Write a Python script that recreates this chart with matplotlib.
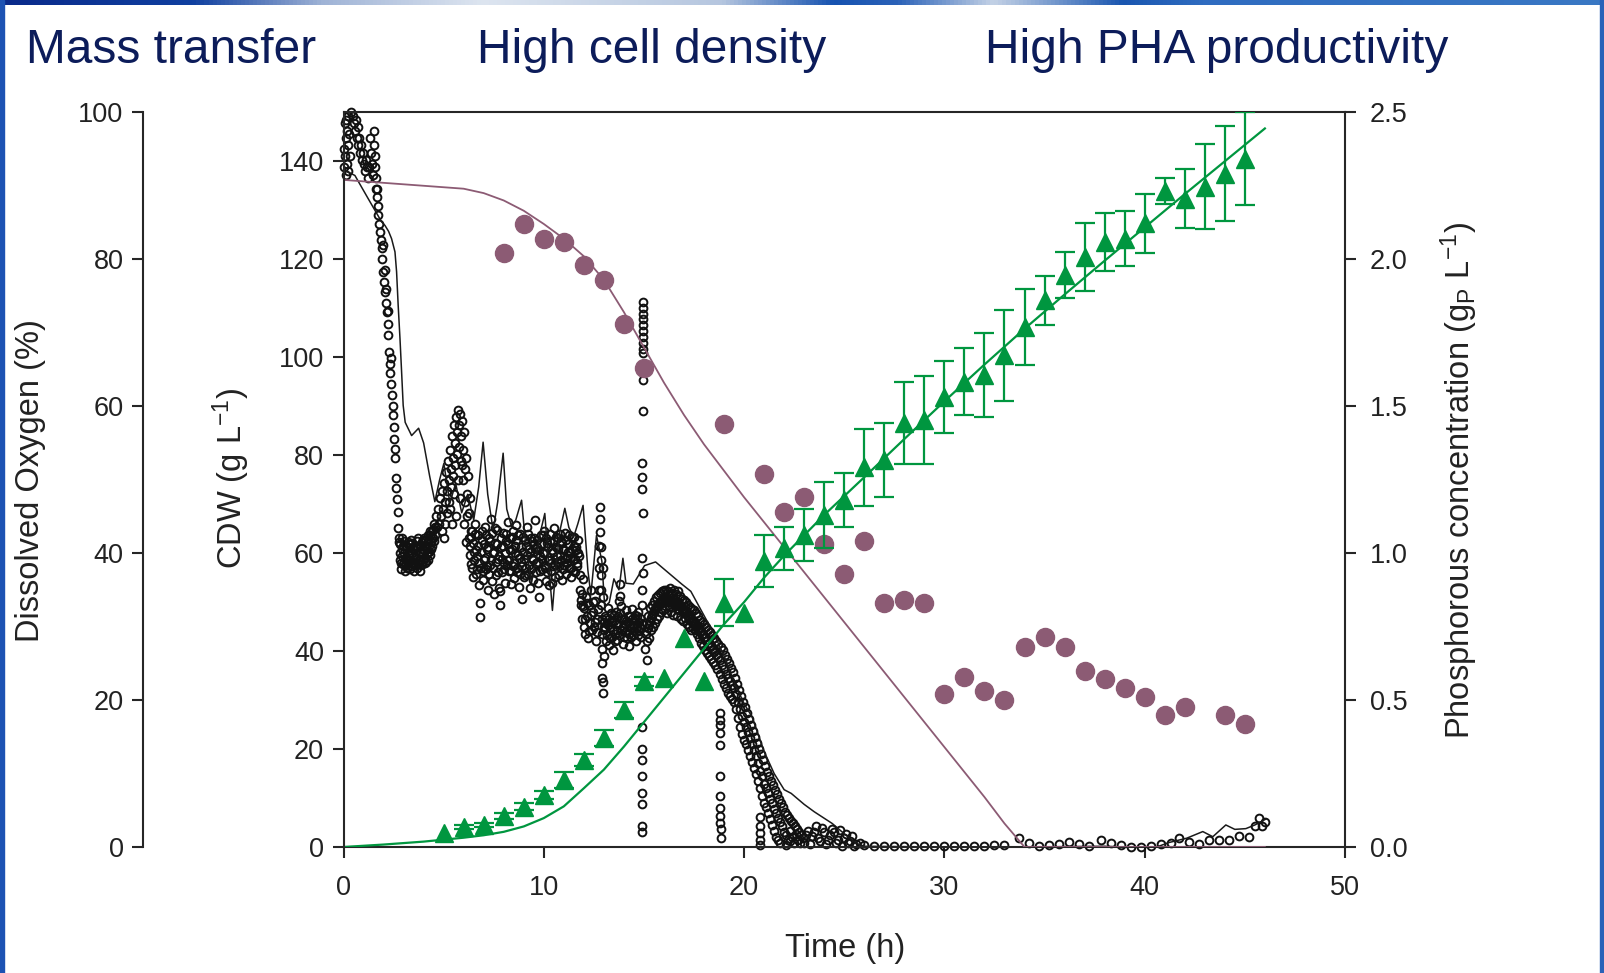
import numpy as np
import matplotlib
matplotlib.use("Agg")
import matplotlib.pyplot as plt
from matplotlib.patches import Rectangle

plt.rcParams['font.family'] = ['Liberation Sans', 'DejaVu Sans']
plt.rcParams['mathtext.fontset'] = 'custom'
plt.rcParams['mathtext.rm'] = 'Liberation Sans'
plt.rcParams['mathtext.it'] = 'Liberation Sans:italic'

# ---- CDW data (green triangles, mean and SD) ----
cdw_time = list(range(5, 46))
cdw_mean = [2.8, 4.0, 4.5, 6.3, 8.2, 10.6, 13.7, 17.8, 22.2, 28.0, 33.8, 34.5, 42.6, 33.8,
            49.9, 47.7, 58.3, 61.0, 63.7, 67.8, 70.9, 77.5, 79.0, 86.5, 87.2, 91.9, 95.0,
            96.3, 100.4, 106.2, 111.6, 116.7, 120.5, 123.5, 124.2, 127.3, 133.9, 132.4,
            134.8, 137.5, 140.5]
cdw_sd = [np.nan, 0.4, 0.5, 0.6, 0.7, 0.8, 1.6, 1.2, 1.6, 1.7, 1.0, np.nan, np.nan, np.nan,
          4.8, np.nan, 5.3, 4.4, 5.4, 6.7, 5.5, 7.8, 7.6, 8.4, 9.0, 7.4, 6.8, 8.6, 9.3, 7.7,
          5.0, 4.7, 7.0, 6.0, 5.6, 6.0, 2.6, 6.0, 8.7, 9.7, 9.5]

# CDW model (green line)
cdw_model_time = [0, 2, 4, 5, 6, 7, 8, 9, 10, 11, 12, 13, 14, 15, 16, 17, 18, 19, 20, 21, 22,
                  24, 26, 28, 30, 32, 34, 36, 38, 40, 42, 44, 46]
cdw_model = [0.0, 0.5, 1.1, 1.5, 1.9, 2.4, 3.1, 4.2, 5.9, 8.3, 12.0, 15.8, 20.5, 25.5, 30.5,
             35.5, 40.5, 45.5, 50.0, 55.0, 59.5, 67.8, 75.5, 83.3, 91.0, 98.5, 105.8, 112.8,
             119.7, 126.5, 133.3, 140.0, 146.7]

# ---- Phosphorous (purple) ----
p_time = [8, 9, 10, 11, 12, 13, 14, 15, 19, 21, 22, 23, 24, 25, 26, 27, 28, 29, 30, 31, 32,
          33, 34, 35, 36, 37, 38, 39, 40, 41, 42, 44, 45]
p_conc = [2.02, 2.12, 2.07, 2.06, 1.98, 1.93, 1.78, 1.63, 1.44, 1.27, 1.14, 1.19, 1.03, 0.93,
          1.04, 0.83, 0.84, 0.83, 0.52, 0.58, 0.53, 0.50, 0.68, 0.715, 0.68, 0.60, 0.57, 0.54,
          0.51, 0.45, 0.475, 0.45, 0.42]
p_model_time = [0, 2, 4, 6, 7, 8, 9, 10, 11, 12, 13, 14, 15, 16, 17, 18, 20, 22, 24, 26, 28,
                30, 32, 33, 34, 46]
p_model = [2.27, 2.26, 2.25, 2.24, 2.225, 2.20, 2.165, 2.12, 2.07, 2.01, 1.93, 1.82, 1.70,
           1.58, 1.47, 1.37, 1.19, 1.02, 0.85, 0.68, 0.51, 0.34, 0.17, 0.08, 0.0, 0.0]

# ---- Dissolved oxygen measurements (open circles), (time h, DO %) ----
do_start = [(0.02, 95.0), (0.04, 92.5), (0.06, 98.5), (0.08, 94.0), (0.10, 91.5), (0.12, 99.0),
            (0.14, 96.5), (0.16, 93.0), (0.18, 97.5), (0.20, 95.5), (0.22, 92.0), (0.24, 99.5),
            (0.27, 97.0), (0.30, 94.0), (0.35, 100.0), (0.45, 99.5), (0.52, 98.5), (0.58, 97.5),
            (0.62, 99.0), (0.66, 96.5), (0.70, 98.0), (0.74, 95.5), (0.78, 96.5), (0.82, 94.5),
            (0.86, 95.5), (0.90, 93.5), (0.95, 94.5), (1.00, 93.0), (1.05, 92.0), (1.10, 93.5),
            (1.15, 92.5), (1.20, 91.0), (1.25, 92.5), (1.30, 96.5), (1.35, 94.5), (1.40, 93.0),
            (1.45, 91.5), (1.50, 97.5), (1.53, 95.5), (1.56, 94.0), (1.58, 92.5), (1.60, 91.0),
            (1.62, 89.5)]
do_drop = [(1.65, 89.6), (1.68, 88.5), (1.71, 87.2), (1.74, 86.0), (1.78, 84.8), (1.82, 83.7),
           (1.86, 82.6), (1.90, 81.5), (1.94, 80.0), (1.99, 78.3), (2.03, 76.9), (2.07, 75.5),
           (2.11, 74.1), (2.15, 72.8), (2.20, 71.2), (2.24, 69.7), (2.27, 67.4), (2.30, 65.8),
           (2.33, 64.5), (2.37, 63.0), (2.40, 61.5), (2.45, 60.0), (2.49, 58.8), (2.51, 57.2),
           (2.53, 55.6), (2.55, 54.2), (2.57, 52.9), (2.60, 50.2), (2.63, 48.8), (2.65, 47.4),
           (2.70, 45.6), (2.73, 43.4), (2.76, 42.0), (1.95, 82.0), (2.05, 78.5), (2.12, 76.0),
           (2.22, 73.0), (2.35, 66.5)]
do_plateau = [(2.78, 41.5), (2.82, 39.0), (2.86, 37.8), (2.90, 40.5), (2.94, 42.0), (2.98, 38.5),
              (3.02, 40.0), (3.06, 37.5), (3.10, 41.0), (3.14, 39.5), (3.18, 38.0), (3.22, 41.5),
              (3.26, 40.0), (3.30, 37.8), (3.34, 39.0), (3.38, 41.8), (3.42, 38.2), (3.46, 40.5),
              (3.50, 39.0), (3.54, 37.5), (3.58, 41.0), (3.62, 39.5), (3.66, 38.0), (3.70, 40.8),
              (3.74, 42.0), (3.78, 39.0), (3.82, 37.6), (3.86, 40.0), (3.90, 41.5), (3.94, 38.5),
              (3.98, 40.0), (4.02, 42.0), (4.06, 39.5), (4.10, 41.0), (4.14, 38.8), (4.18, 40.5),
              (4.22, 42.5), (4.26, 41.0), (4.30, 39.8), (4.34, 42.5), (4.38, 41.5), (4.42, 43.0),
              (4.46, 42.0), (4.50, 44.0), (4.55, 42.5), (4.60, 45.0),
              (2.80, 40.0), (2.84, 41.2), (2.88, 38.6), (2.92, 39.6), (2.96, 41.0), (3.00, 38.8),
              (3.04, 41.6), (3.08, 39.2), (3.12, 38.4), (3.16, 40.8), (3.20, 39.8), (3.24, 38.6),
              (3.28, 41.2), (3.32, 40.4), (3.36, 38.2), (3.40, 40.0), (3.44, 41.4), (3.48, 38.8),
              (3.52, 40.6), (3.56, 39.4), (3.60, 38.4), (3.64, 40.8), (3.68, 41.6), (3.72, 38.6),
              (3.76, 40.2), (3.80, 41.0), (3.84, 39.0), (3.88, 38.4), (3.92, 40.6), (3.96, 41.8),
              (4.00, 39.2), (4.04, 40.4), (4.08, 38.6), (4.12, 41.8), (4.16, 40.0), (4.20, 39.0),
              (4.24, 41.6), (4.28, 40.2), (4.32, 43.0), (4.36, 40.6), (4.40, 42.2), (4.44, 41.0),
              (4.48, 43.2), (4.52, 41.6), (4.57, 43.6)]
do_peak = [(4.65, 43.5), (4.70, 46.0), (4.75, 44.0), (4.80, 47.5), (4.85, 45.0), (4.90, 48.5),
           (4.95, 46.0), (5.00, 49.5), (5.05, 47.0), (5.10, 51.0), (5.15, 48.5), (5.20, 52.5),
           (5.25, 50.0), (5.30, 54.0), (5.35, 51.5), (5.40, 56.0), (5.45, 53.0), (5.50, 57.5),
           (5.55, 55.0), (5.60, 58.5), (5.65, 56.5), (5.70, 59.5), (5.75, 57.5), (5.80, 59.0),
           (5.85, 56.0), (5.90, 58.0), (5.95, 54.0), (6.00, 56.5), (6.05, 51.5), (6.10, 53.0),
           (6.15, 48.0), (6.20, 50.5), (6.25, 45.5), (6.30, 47.5), (6.35, 43.0), (5.30, 46.0),
           (5.40, 44.0), (5.50, 48.0), (5.60, 45.0), (5.70, 50.0), (5.80, 47.5), (5.90, 52.0),
           (6.00, 44.0), (6.10, 41.5), (5.05, 44.0), (5.15, 45.5), (5.25, 47.0), (5.35, 49.0),
           (5.45, 50.5), (5.55, 52.0), (5.65, 53.5), (5.75, 54.5), (5.85, 52.5), (5.95, 50.0),
           (6.05, 47.0), (6.15, 45.0), (6.25, 42.0), (4.90, 43.0), (5.00, 42.0)]
do_noisy = [(6.30, 41.0), (6.35, 38.5), (6.40, 43.0), (6.45, 36.8), (6.50, 40.2), (6.55, 44.0),
            (6.60, 37.2), (6.65, 39.6), (6.70, 42.4), (6.75, 35.6), (6.80, 31.3), (6.82, 33.2),
            (6.85, 38.0), (6.90, 41.8), (6.95, 36.4), (7.00, 39.0), (7.05, 43.5), (7.10, 37.8),
            (7.15, 40.6), (7.20, 35.0), (7.25, 42.0), (7.30, 38.4), (7.35, 44.6), (7.40, 36.2),
            (7.45, 40.0), (7.50, 34.5), (7.55, 41.4), (7.60, 37.0), (7.65, 43.2), (7.70, 39.2),
            (7.75, 35.2), (7.80, 32.9), (7.83, 34.8), (7.85, 40.8), (7.90, 37.4), (7.95, 42.8),
            (8.00, 38.6), (8.05, 36.0), (8.10, 41.6), (8.15, 39.0), (8.20, 44.2), (8.25, 37.6),
            (8.30, 40.4), (8.35, 35.8), (8.40, 42.2), (8.45, 38.2), (8.50, 36.6), (8.55, 41.0),
            (8.60, 43.8), (8.65, 37.4), (8.70, 39.8), (8.75, 35.4), (8.80, 42.6), (8.85, 38.8),
            (8.90, 33.8), (8.95, 40.2), (9.00, 36.8), (9.05, 41.8), (9.10, 38.0), (9.15, 43.6),
            (9.20, 37.2), (9.25, 40.6), (9.30, 35.2), (9.35, 42.0), (9.40, 39.4), (9.45, 36.4),
            (9.50, 41.2), (9.55, 44.5), (9.60, 38.6), (9.65, 40.8), (9.70, 36.0), (9.75, 34.0),
            (9.80, 39.6), (9.85, 42.4), (9.90, 37.8), (9.95, 40.0), (10.00, 43.0), (10.05, 38.4),
            (10.10, 36.2), (10.15, 41.4), (10.20, 39.0), (10.25, 35.6), (10.30, 42.6),
            (10.35, 37.6), (10.40, 40.4), (10.45, 38.2), (10.50, 43.4), (10.55, 36.8),
            (10.60, 40.8), (10.65, 38.8), (10.70, 42.0), (10.75, 37.0), (10.80, 39.8),
            (10.85, 41.6), (10.90, 36.4), (10.95, 40.6), (11.00, 38.4), (11.05, 42.8),
            (11.10, 37.2), (11.15, 39.4), (11.20, 41.2), (11.25, 38.0), (11.30, 40.2),
            (11.35, 36.8), (11.40, 42.2), (11.45, 39.0), (11.50, 41.0), (11.55, 37.4),
            (11.60, 40.4), (11.65, 38.6), (11.70, 41.8), (11.75, 39.6)]
do_noisy_2 = [(6.33, 39.8), (6.38, 42.2), (6.43, 38.0), (6.48, 41.4), (6.53, 39.0), (6.58, 42.6),
              (6.63, 40.4), (6.68, 37.8), (6.73, 41.0), (6.78, 38.6), (6.88, 40.2), (6.93, 43.0),
              (6.98, 37.6), (7.03, 41.2), (7.08, 39.4), (7.13, 42.4), (7.18, 38.2), (7.23, 40.8),
              (7.28, 37.2), (7.33, 41.6), (7.38, 39.0), (7.43, 42.8), (7.48, 38.0), (7.53, 40.2),
              (7.58, 43.4), (7.63, 38.8), (7.68, 41.2), (7.73, 37.4), (7.78, 39.6), (7.88, 42.0),
              (7.93, 39.2), (7.98, 41.0), (8.03, 37.8), (8.08, 40.0), (8.13, 42.6), (8.18, 38.4),
              (8.23, 41.2), (8.28, 39.0), (8.33, 42.0), (8.38, 37.6), (8.43, 40.6), (8.48, 43.0),
              (8.53, 38.6), (8.58, 40.0), (8.63, 41.8), (8.68, 38.0), (8.73, 42.4), (8.78, 39.4),
              (8.83, 37.2), (8.88, 40.8), (8.93, 38.2), (8.98, 42.2), (9.03, 39.2), (9.08, 37.0),
              (9.13, 41.0), (9.18, 39.8), (9.23, 42.6), (9.28, 38.4), (9.33, 40.2), (9.38, 37.8),
              (9.43, 41.6), (9.48, 39.0), (9.53, 42.0), (9.58, 40.6), (9.63, 37.4), (9.68, 41.8),
              (9.73, 38.8), (9.78, 40.4), (9.83, 37.6), (9.88, 41.2), (9.93, 39.2), (9.98, 42.4),
              (10.03, 40.0), (10.08, 38.0), (10.13, 42.0), (10.18, 37.4), (10.23, 40.8),
              (10.28, 39.0), (10.33, 41.6), (10.38, 38.6), (10.43, 36.0), (10.48, 40.2),
              (10.53, 41.6), (10.58, 38.4), (10.63, 42.2), (10.68, 39.6), (10.73, 40.6),
              (10.78, 38.2), (10.83, 42.6), (10.88, 39.0), (10.93, 41.4), (10.98, 37.8),
              (11.03, 40.4), (11.08, 39.2), (11.13, 41.8), (11.18, 38.6), (11.23, 40.2),
              (11.28, 42.4), (11.33, 39.4), (11.38, 38.0), (11.43, 40.6), (11.48, 37.6),
              (11.53, 42.2), (11.58, 39.2), (11.63, 40.8), (11.68, 38.2), (11.73, 40.0)]
do_step = [(11.80, 37.0), (11.83, 35.0), (11.86, 33.0), (11.90, 31.0), (11.93, 34.5),
           (11.96, 36.5), (12.00, 30.0), (12.03, 32.5), (12.06, 29.0), (12.10, 34.0),
           (12.15, 31.5), (12.20, 28.5), (12.25, 33.0), (12.30, 30.5), (12.35, 35.0),
           (12.40, 29.5), (12.45, 32.0), (12.50, 30.0), (12.55, 33.5), (12.60, 28.0),
           (12.65, 31.0), (12.80, 46.3), (12.81, 44.7), (12.82, 42.9), (12.84, 40.9),
           (12.85, 39.0), (12.86, 37.0), (12.87, 35.0), (12.88, 33.0), (12.89, 31.0),
           (12.90, 29.0), (12.91, 27.0), (12.92, 25.0), (12.93, 23.0), (12.94, 20.9),
           (12.96, 22.5), (12.97, 38.0), (12.98, 34.0), (12.99, 30.0), (13.00, 26.0),
           (11.88, 33.6), (11.98, 32.8), (12.08, 31.0), (12.18, 33.2), (12.28, 29.4),
           (12.38, 31.6), (12.48, 33.4), (12.58, 30.6), (12.68, 29.2), (12.72, 32.4),
           (12.75, 35.0), (12.77, 38.0), (12.78, 41.0)]
do_low = [(13.00, 29.5), (13.05, 31.5), (13.10, 28.0), (13.15, 30.5), (13.20, 32.5),
          (13.25, 27.5), (13.30, 30.0), (13.35, 31.8), (13.40, 28.6), (13.45, 26.8),
          (13.50, 30.8), (13.55, 29.0), (13.60, 32.0), (13.65, 28.2), (13.70, 30.4),
          (13.75, 33.5), (13.80, 35.8), (13.82, 34.2), (13.85, 32.8), (13.90, 29.6),
          (13.95, 27.6), (14.00, 31.0), (14.05, 29.2), (14.10, 32.2), (14.15, 28.4),
          (14.20, 30.6), (14.25, 27.4), (14.30, 31.4), (14.35, 29.8), (14.40, 32.4),
          (14.45, 28.8), (14.50, 30.2), (14.55, 31.6), (14.60, 28.0), (14.65, 30.0),
          (14.70, 32.0), (14.75, 29.4), (14.80, 31.2), (14.85, 28.6),
          (13.03, 30.6), (13.08, 29.8), (13.13, 31.2), (13.18, 28.8), (13.23, 30.2),
          (13.28, 31.0), (13.33, 28.4), (13.38, 30.6), (13.43, 29.4), (13.48, 31.6),
          (13.53, 28.0), (13.58, 30.4), (13.63, 29.6), (13.68, 31.4), (13.73, 28.8),
          (13.78, 31.8), (13.88, 31.0), (13.93, 30.0), (13.98, 28.6), (14.03, 30.4),
          (14.08, 30.8), (14.13, 29.6), (14.18, 31.4), (14.23, 29.0), (14.28, 30.2),
          (14.33, 28.6), (14.38, 31.0), (14.43, 30.2), (14.48, 29.4), (14.53, 31.2),
          (14.58, 29.8), (14.63, 31.4), (14.68, 28.8), (14.73, 30.6), (14.78, 30.0),
          (14.83, 29.8), (14.88, 30.4)]
do_spike = [(14.95, 74.2), (14.96, 73.4), (14.95, 72.6), (14.96, 71.8), (14.95, 71.0),
            (14.96, 70.2), (14.95, 69.4), (14.96, 68.6), (14.95, 67.8), (14.96, 67.2),
            (14.94, 63.6), (14.97, 59.3), (14.92, 52.3), (14.92, 50.4), (14.92, 48.7),
            (14.93, 45.5), (14.92, 39.3), (14.94, 37.3), (14.92, 35.0), (14.92, 33.0),
            (14.90, 16.4), (14.90, 13.4), (14.90, 11.8), (14.90, 9.6), (14.89, 7.4),
            (14.90, 5.9), (14.89, 2.8), (14.90, 2.1)]
do_hump = [(15.05, 27.0), (15.10, 30.5), (15.15, 25.5), (15.20, 31.5), (15.25, 28.5),
           (15.30, 32.5), (15.35, 29.5), (15.40, 33.0), (15.45, 30.0), (15.50, 33.5),
           (15.55, 30.5), (15.60, 34.0), (15.65, 31.0), (15.70, 34.3), (15.75, 31.5),
           (15.80, 34.6), (15.85, 32.0), (15.90, 34.8), (15.95, 32.2), (16.00, 35.0),
           (16.05, 32.4), (16.10, 35.0), (16.15, 31.8), (16.20, 34.8), (16.25, 32.6),
           (16.30, 35.2), (16.35, 32.0), (16.40, 34.6), (16.45, 31.6), (16.50, 35.0),
           (16.55, 32.8), (16.60, 34.4), (16.65, 31.4), (16.70, 34.8), (16.75, 32.2),
           (16.80, 34.2), (16.85, 31.0), (16.90, 33.8), (16.95, 30.8), (17.00, 33.6),
           (17.05, 31.2), (17.10, 33.4), (17.15, 30.4), (17.20, 33.0), (17.25, 30.0),
           (17.30, 32.6), (17.35, 29.6), (17.40, 32.4), (17.45, 29.8), (17.50, 32.2),
           (17.55, 29.6), (17.60, 31.8), (17.65, 29.0), (17.70, 31.4), (17.75, 28.4),
           (17.80, 30.9), (17.85, 27.8), (17.90, 30.6), (17.95, 27.4), (18.00, 30.4),
           (18.05, 26.8), (18.10, 30.0), (18.15, 26.4), (18.20, 29.6), (18.25, 26.0),
           (18.30, 29.2), (18.35, 25.6), (18.40, 28.8), (18.45, 25.2), (18.50, 28.4)]
do_hump_2 = [(15.08, 29.0), (15.13, 28.0), (15.18, 29.8), (15.23, 30.2), (15.28, 30.8),
             (15.33, 31.2), (15.38, 31.6), (15.43, 31.8), (15.48, 32.2), (15.53, 32.4),
             (15.58, 32.6), (15.63, 33.0), (15.68, 32.8), (15.73, 33.2), (15.78, 33.4),
             (15.83, 33.2), (15.88, 33.6), (15.93, 33.4), (15.98, 33.8), (16.03, 33.6),
             (16.08, 33.8), (16.13, 33.4), (16.18, 33.6), (16.23, 33.8), (16.28, 33.4),
             (16.33, 33.6), (16.38, 33.2), (16.43, 33.4), (16.48, 33.8), (16.53, 33.6),
             (16.58, 33.2), (16.63, 33.0), (16.68, 33.4), (16.73, 33.0), (16.78, 32.8),
             (16.83, 32.6), (16.88, 32.4), (16.93, 32.2), (16.98, 32.0), (17.03, 32.2),
             (17.08, 31.8), (17.13, 31.6), (17.18, 31.4), (17.23, 31.2), (17.28, 31.0),
             (17.33, 30.8), (17.38, 30.6), (17.43, 30.8), (17.48, 30.4), (17.53, 30.6),
             (17.58, 30.0), (17.63, 30.2), (17.68, 29.6), (17.73, 29.8), (17.78, 29.2),
             (17.83, 29.4), (17.88, 28.8), (17.93, 29.0), (17.98, 28.4), (18.03, 28.6),
             (18.08, 28.0), (18.13, 28.2), (18.18, 27.6), (18.23, 27.8), (18.28, 27.2),
             (18.33, 27.4), (18.38, 26.8), (18.43, 27.0), (18.48, 26.6)]
do_fall = [(18.55, 24.8), (18.60, 28.0), (18.65, 24.2), (18.70, 27.6), (18.80, 23.6),
           (18.85, 27.2), (18.90, 22.8), (18.95, 26.8), (19.00, 22.2), (19.05, 26.2),
           (19.10, 21.6), (19.15, 25.6), (19.20, 21.0), (19.25, 25.0), (19.30, 20.6),
           (19.35, 24.4), (19.40, 20.2), (19.45, 23.8), (19.50, 19.8), (19.55, 23.0),
           (19.60, 18.8), (19.65, 22.2), (19.70, 17.6), (19.75, 21.4), (19.80, 16.4),
           (19.85, 20.6), (19.90, 15.4), (19.95, 19.8), (20.00, 14.6), (20.05, 19.0),
           (20.10, 14.0), (20.15, 18.2), (20.20, 13.2), (20.25, 17.4), (20.30, 12.4),
           (20.35, 16.6), (20.40, 11.6), (20.45, 15.8), (20.50, 10.8), (20.55, 15.0),
           (20.60, 10.0), (20.65, 14.2), (20.70, 9.0), (20.75, 13.4), (20.80, 8.0),
           (20.85, 12.6), (20.90, 7.0), (20.95, 11.8), (21.00, 6.0), (21.05, 11.0),
           (21.10, 5.4), (21.15, 10.2), (21.20, 4.6), (21.25, 9.6), (21.30, 3.8), (21.35, 9.0),
           (21.40, 3.0), (21.45, 8.4), (21.50, 2.2), (21.55, 7.8), (21.60, 1.4), (21.65, 7.2),
           (21.70, 0.9), (21.75, 6.6), (21.80, 0.5), (21.85, 6.0), (21.95, 5.4), (22.05, 4.8),
           (22.15, 4.4), (22.25, 4.0), (22.35, 3.6), (22.45, 3.2), (22.55, 2.8), (22.65, 2.4),
           (22.75, 2.0), (22.85, 1.6), (22.95, 1.2), (22.10, 0.3), (22.30, 0.8), (22.50, 0.5),
           (22.70, 0.9), (23.00, 0.6), (23.20, 2.2), (23.40, 1.5), (23.60, 2.8), (23.80, 0.8),
           (24.00, 2.0), (24.20, 1.0), (24.40, 2.5), (24.60, 0.6), (24.80, 2.3), (25.00, 1.2),
           (25.20, 0.5), (25.40, 1.5), (25.60, 0.4)]
do_fall_2 = [(18.58, 26.2), (18.68, 25.8), (18.78, 25.4), (18.88, 24.8), (18.98, 24.2),
             (19.08, 23.6), (19.18, 23.0), (19.28, 22.6), (19.38, 22.0), (19.48, 21.6),
             (19.58, 20.8), (19.68, 19.8), (19.78, 18.8), (19.88, 17.8), (19.98, 17.0),
             (20.08, 16.4), (20.18, 15.6), (20.28, 14.8), (20.38, 14.0), (20.48, 13.2),
             (20.58, 12.4), (20.68, 11.4), (20.78, 10.4), (20.88, 9.6), (20.98, 8.6),
             (21.08, 8.0), (21.18, 7.4), (21.28, 6.6), (21.38, 6.0), (21.48, 5.2), (21.58, 4.6),
             (21.68, 4.0), (21.78, 3.4), (21.88, 2.8), (21.98, 2.0), (22.08, 1.6), (22.18, 1.0),
             (22.28, 2.2), (22.40, 1.4), (22.60, 1.8), (22.80, 0.6), (23.10, 1.6), (23.30, 0.4),
             (23.50, 2.0), (23.70, 1.2), (23.90, 2.6), (24.10, 0.4), (24.30, 1.6), (24.50, 2.0),
             (24.70, 1.0), (24.90, 0.2), (25.10, 1.8), (25.30, 0.8), (25.50, 0.2), (25.80, 0.6)]
do_gaps = [(18.78, 18.2), (18.78, 17.3), (18.79, 16.6), (18.79, 15.5), (18.80, 13.9),
           (18.80, 9.6), (18.81, 6.9), (18.81, 5.3), (18.82, 4.2), (18.82, 3.3), (18.83, 2.4),
           (18.83, 1.2), (20.77, 4.1), (20.77, 2.8), (20.78, 1.9), (20.78, 1.0), (20.79, 0.3)]
do_tail = [(26.0, 0.3), (26.5, 0.2), (27.0, 0.2), (27.5, 0.2), (28.0, 0.2), (28.5, 0.2),
           (29.0, 0.2), (29.5, 0.2), (30.0, 0.2), (30.5, 0.2), (31.0, 0.2), (31.5, 0.2),
           (32.0, 0.2), (32.5, 0.3), (33.0, 0.3), (33.7, 1.2), (34.2, 0.6), (34.7, 0.2),
           (35.2, 0.3), (35.7, 0.4), (36.2, 0.7), (36.7, 0.4), (37.2, 0.1), (37.8, 0.9),
           (38.3, 0.6), (38.8, 0.3), (39.3, 0.0), (39.8, 0.0), (40.3, 0.2), (40.8, 0.4),
           (41.3, 0.6), (41.7, 1.2), (42.2, 0.7), (42.7, 0.4), (43.2, 0.9), (43.7, 1.0),
           (44.2, 0.9), (44.7, 1.5), (45.2, 1.4), (45.5, 2.8), (45.7, 3.9), (45.85, 2.9),
           (46.0, 3.4)]

# DO model (thin black line)
do_model = [(0.0, 93.0), (0.07, 92.1), (0.57, 91.4), (1.2, 88.4), (1.9, 85.1), (2.07, 84.6),
            (2.25, 83.8), (2.4, 82.8), (2.57, 81.0), (2.65, 78.3), (2.73, 73.7), (2.82, 69.2),
            (2.9, 64.7), (2.98, 60.1), (3.08, 57.8), (3.15, 57.4), (3.4, 56.0), (3.75, 57.0),
            (4.0, 55.0), (4.3, 50.5), (4.56, 47.0), (4.8, 50.0), (5.01, 52.2), (5.31, 46.8),
            (5.6, 49.5), (5.9, 45.5), (6.2, 48.0), (6.5, 44.5), (6.75, 49.0), (6.97, 55.1),
            (7.2, 48.0), (7.47, 43.1), (7.7, 47.0), (7.97, 53.6), (8.15, 46.0), (8.39, 43.6),
            (8.6, 44.5), (8.89, 47.2), (9.1, 41.0), (9.39, 36.0), (9.6, 39.0), (9.8, 42.5),
            (10.05, 45.4), (10.2, 40.0), (10.43, 32.2), (10.6, 38.0), (10.8, 43.0),
            (11.05, 46.1), (11.25, 43.5), (11.49, 42.2), (11.7, 44.0), (11.96, 46.5),
            (12.2, 37.7), (12.35, 34.3), (12.63, 42.4), (12.9, 38.9), (13.04, 32.7),
            (13.27, 33.3), (13.5, 36.5), (13.75, 35.0), (13.95, 39.3), (14.1, 35.9),
            (14.47, 35.8), (15.03, 38.3), (15.58, 38.8), (16.23, 37.3), (16.88, 35.8),
            (17.34, 34.8), (18.0, 31.5), (18.5, 29.0), (19.0, 26.0), (19.5, 22.5), (20.0, 19.5),
            (20.4, 17.7), (21.0, 13.0), (21.5, 10.0), (22.0, 7.8), (22.35, 7.3), (23.0, 5.8),
            (23.5, 4.8), (24.4, 3.2), (25.0, 1.8), (25.6, 0.5), (26.0, 0.1), (30.0, 0.0),
            (34.0, 0.0), (38.0, 0.1), (39.0, 0.0), (40.6, 0.0), (41.2, 0.6), (42.1, 1.2),
            (42.9, 2.1), (43.4, 1.4), (44.05, 3.0), (44.5, 2.4), (45.05, 2.5), (45.5, 3.0),
            (46.05, 3.8)]

titles = ["Mass transfer", "High cell density", "High PHA productivity"]

GREEN = '#00963f'
PURPLE = '#8c5b74'
NAVY = '#0c1c5a'
INK = '#1a1a1a'

W, H = 1604, 973
fig = plt.figure(figsize=(W / 100, H / 100), dpi=100)
fig.patch.set_facecolor('white')


def box(x0, y0, x1, y1):
    return [x0 / W, 1 - y1 / H, (x1 - x0) / W, (y1 - y0) / H]


ax_do = fig.add_axes(box(343.5, 112.3, 1345, 847))
ax_p = ax_do.twinx()
ax_c = ax_do.twinx()

# dissolved oxygen (bottom layer)
do_all = (do_start + do_drop + do_plateau + do_peak + do_noisy + do_noisy_2 + do_step +
          do_low + do_spike + do_hump + do_hump_2 + do_fall + do_fall_2 + do_gaps + do_tail)
dt, dv = zip(*do_all)
ax_do.plot(dt, dv, 'o', ls='none', ms=5.6, mfc='none', mec='#111111', mew=1.4, clip_on=False)
mt, mv = zip(*do_model)
ax_do.plot(mt, mv, '-', color=INK, lw=1.1)

# phosphorous
ax_p.plot(p_model_time, p_model, '-', color=PURPLE, lw=1.3)
ax_p.plot(p_time, p_conc, 'o', ls='none', ms=13, color=PURPLE, mec=PURPLE)

# CDW
ax_c.plot(cdw_model_time, cdw_model, '-', color=GREEN, lw=1.6)
ax_c.errorbar(cdw_time, cdw_mean, yerr=cdw_sd, fmt='^', ms=12.5, color=GREEN,
              ecolor=GREEN, elinewidth=1.6, capsize=7, capthick=1.6)

# axes limits / ticks
ax_do.set_xlim(0, 50)
ax_do.set_ylim(0, 100)
ax_p.set_ylim(0, 2.5)
ax_c.set_ylim(0, 150)
ax_do.set_xticks(range(0, 51, 10))
ax_do.set_yticks(range(0, 101, 20))
ax_c.set_yticks(range(0, 141, 20))
ax_p.set_yticks(np.arange(0, 2.51, 0.5))
ax_p.set_yticklabels([f"{v:.1f}" for v in np.arange(0, 2.51, 0.5)])

ax_c.yaxis.set_ticks_position('left')
ax_p.yaxis.set_ticks_position('right')
ax_do.yaxis.set_ticks_position('left')

for a in (ax_do, ax_p, ax_c):
    for s in a.spines.values():
        s.set_visible(False)
        s.set_linewidth(1.5)
        s.set_color('#262626')
    a.tick_params(direction='out', length=8, width=1.5, color='#262626',
                  labelsize=19.5, labelcolor='#222222', pad=6)

ax_do.spines['left'].set_visible(True)
ax_do.spines['left'].set_position(('axes', (143 - 343.5) / (1345 - 343.5)))
ax_do.spines['bottom'].set_visible(True)
ax_do.spines['top'].set_visible(True)
ax_c.spines['left'].set_visible(True)
ax_p.spines['right'].set_visible(True)
ax_do.tick_params(axis='x', pad=12)
ax_p.tick_params(axis='y', pad=10)

# axis labels as figure text, placed by pixel centres
fig.text(845 / W, 1 - 949 / H, "Time (h)", ha='center', va='center', fontsize=23.5,
         color='#222222')
fig.text(31 / W, 1 - 481 / H, "Dissolved Oxygen (%)", rotation=90, ha='center',
         va='center', fontsize=23.5, color='#222222')
fig.text(231 / W, 1 - 478 / H, r"CDW (g L$^{\mathregular{-1}}$)", rotation=90,
         ha='center', va='center', fontsize=23.5, color='#222222')
fig.text(1459 / W, 1 - 480 / H,
         r"Phosphorous concentration (g$_{\mathregular{P}}$ L$^{\mathregular{-1}}$)",
         rotation=90, ha='center', va='center', fontsize=23.5, color='#222222')

# slide titles
for label, x in zip(titles, [25.6, 477, 985]):
    fig.text(x / W, 1 - 63.4 / H, label, ha='left', va='baseline', fontsize=34.5,
             color=NAVY)

# slide frame decoration
ax_bar = fig.add_axes([0, 1 - 5 / H, 1, 5 / H])
stops = [0.0, 0.12, 0.2, 0.3, 0.45, 0.52, 0.56, 0.62, 0.7, 0.75, 1.0]
cols = ['#0a2a8a', '#1040a0', '#9fb3d6', '#dde5f0', '#b5c6df', '#1652b0', '#2b62b8',
        '#c4d2e6', '#1a56b0', '#2f6cc0', '#3a78c4']
rgb = np.array([matplotlib.colors.to_rgb(c) for c in cols])
xs = np.linspace(0, 1, 400)
grad = np.stack([np.interp(xs, stops, rgb[:, k]) for k in range(3)], axis=-1)[None, :, :]
ax_bar.imshow(grad, aspect='auto', extent=[0, 1, 0, 1])
ax_bar.axis('off')
fig.patches.append(Rectangle((0, 0), 4 / W, 1, transform=fig.transFigure,
                             color='#1c52b3', zorder=10))
fig.patches.append(Rectangle((1 - 4 / W, 0), 4 / W, 1, transform=fig.transFigure,
                             color='#2a62b8', zorder=10))

fig.savefig('out.png', dpi=100)
